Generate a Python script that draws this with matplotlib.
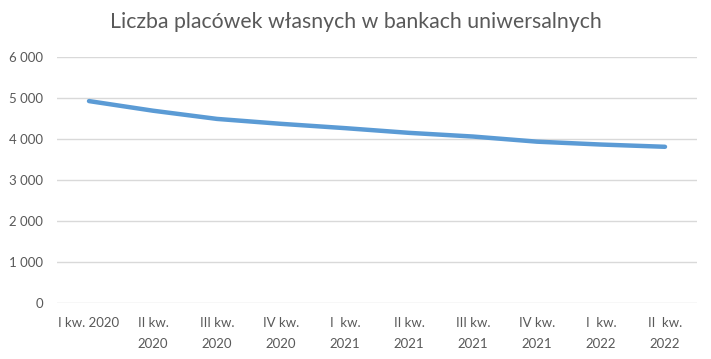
"""
liczba placowek wlasnych - banki uniwersalne
"""
import matplotlib.pyplot as plt

##data
quarters = ['I kw. 2020', 'II kw.\n2020', 'III kw.\n2020', 'IV kw.\n2020', 'I  kw.\n2021',
            'II kw.\n2021', 'III kw.\n2021', 'IV kw.\n2021', 'I  kw.\n2022', 'II  kw.\n2022']
placowki = [4925, 4690, 4490, 4370, 4265, 4150, 4060, 3935, 3865, 3810]
yticks = [0, 1000, 2000, 3000, 4000, 5000, 6000]

plt.rcParams['font.family'] = ['Lato', 'DejaVu Sans']
gray = '#595959'

fig = plt.figure(figsize=(7.11, 3.59), dpi=100)
ax = fig.add_axes([57/711, 1-303/359, 640/711, 246/359])

x = list(range(len(quarters)))
ax.plot(x, placowki, color='#5B9BD5', lw=3.2, solid_capstyle='round', solid_joinstyle='round')

ax.set_xlim(-0.5, len(quarters)-0.5)
ax.set_ylim(0, 6000)
ax.set_yticks(yticks)
ax.set_yticklabels(['{:,}'.format(v).replace(',', ' ') for v in yticks])
ax.set_xticks(x)
ax.set_xticklabels(quarters, linespacing=1.9, va='top')

ax.grid(axis='y', color='#d9d9d9', lw=1)
ax.set_axisbelow(True)
for s in ax.spines.values():
    s.set_visible(False)
ax.tick_params(axis='both', length=0, colors=gray, labelsize=9.5)
ax.tick_params(axis='y', pad=10)
ax.tick_params(axis='x', pad=10)

fig.text(0.5, 1-22/359, 'Liczba placówek własnych w bankach uniwersalnych',
         ha='center', va='center', fontsize=15.3, color=gray)

fig.savefig('out.png', dpi=100)
